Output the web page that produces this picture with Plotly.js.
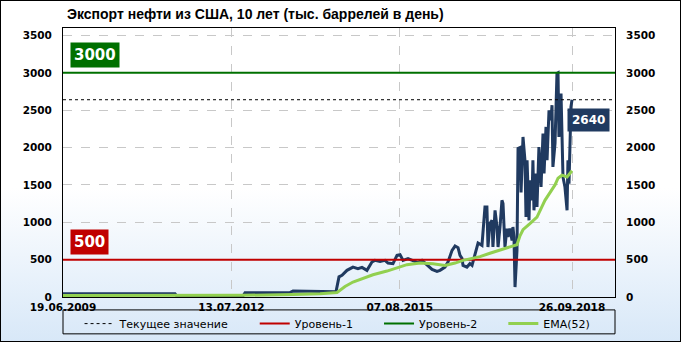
<!DOCTYPE html>
<html>
<head>
<meta charset="utf-8">
<script src="https://cdn.plot.ly/plotly-3.0.1.min.js"></script>
<style>
  html, body { margin: 0; padding: 0; }
  #wrap {
    width: 681px; height: 342px; box-sizing: border-box;
    border: 1px solid #000;
    background: linear-gradient(to bottom, #ffffff 0%, #ffffff 55%, #d8e8f8 100%);
  }
  #chart { width: 679px; height: 340px; }
</style>
</head>
<body>
<div id="wrap"><div id="chart"></div></div>
<script>
// ---- data ----
const titleText = 'Экспорт нефти из США, 10 лет (тыс. баррелей в день)';
const dates = [
  '2009-06-19','2010-02-20','2010-11-13','2011-07-04','2011-07-17','2012-02-22','2012-09-28','2012-10-12',
  '2013-08-07','2013-08-27','2014-02-23','2014-06-09','2014-06-29','2014-07-19','2014-08-21','2014-09-30',
  '2014-11-02','2014-11-29','2015-01-01','2015-02-03','2015-02-23','2015-03-29','2015-05-01','2015-05-21',
  '2015-06-23','2015-07-20','2015-08-09','2015-08-29','2015-10-01','2015-11-03','2015-12-06','2016-01-02',
  '2016-02-04','2016-03-09','2016-04-11','2016-05-01','2016-06-03','2016-06-23','2016-07-20','2016-08-09',
  '2016-08-29','2016-09-11','2016-09-24','2016-10-01','2016-10-27','2016-11-16','2016-11-30','2016-12-20',
  '2017-01-09','2017-02-04','2017-02-24','2017-03-09','2017-03-16','2017-03-29','2017-04-12','2017-04-18',
  '2017-05-02','2017-05-15','2017-05-22','2017-06-04','2017-06-17','2017-06-24','2017-07-07','2017-07-20',
  '2017-07-27','2017-08-09','2017-08-23','2017-08-29','2017-09-05','2017-09-12','2017-09-25','2017-10-02',
  '2017-10-15','2017-10-22','2017-11-04','2017-11-17','2017-11-24','2017-12-01','2017-12-14','2017-12-20',
  '2018-01-03','2018-01-09','2018-01-16','2018-01-29','2018-02-05','2018-02-18','2018-03-04','2018-03-17',
  '2018-03-24','2018-04-06','2018-04-13','2018-04-26','2018-05-09','2018-05-16','2018-05-22','2018-06-05',
  '2018-06-18','2018-06-25','2018-07-01','2018-07-15','2018-07-21','2018-07-28','2018-08-10','2018-08-24',
  '2018-08-30','2018-09-06','2018-09-19','2018-09-26'
];
const exportsKbd = [
  45, 42, 48, 44, 12, 10, 14, 58,
  60, 80, 78, 70, 270, 290, 357, 400,
  380, 397, 357, 468, 490, 477, 490, 454,
  446, 557, 567, 490, 513, 490, 460, 490,
  433, 370, 343, 357, 400, 468, 624, 682,
  660, 557, 517, 423, 400, 446, 423, 580,
  722, 691, 1205, 1205, 669, 982, 1026, 669,
  1160, 937, 669, 937, 1294, 1250, 669, 915,
  803, 915, 758, 937, 803, 133, 624, 1987,
  2000, 1400, 2142, 1830, 1070, 1830, 1026, 1563,
  1294, 1830, 1160, 1652, 1205, 2008, 1472, 2188,
  1652, 2276, 1830, 2500, 2366, 2567, 1741, 2054,
  2992, 3000, 2142, 2724, 2098, 1606, 1472, 1160,
  1830, 1517, 2544, 2640
];
const emaDates = [
  '2009-06-19','2011-07-04','2012-09-28','2013-08-27','2014-02-23','2014-06-16','2014-08-08','2014-09-30',
  '2014-11-29','2015-02-10','2015-05-14','2015-08-09','2015-09-24','2015-12-20','2016-03-15','2016-06-03',
  '2016-08-09','2016-10-01','2016-11-16','2017-01-22','2017-03-29','2017-06-24','2017-08-29','2017-09-25',
  '2017-10-15','2017-11-04','2017-12-20','2018-02-05','2018-03-30','2018-05-03','2018-06-05','2018-06-25',
  '2018-07-21','2018-08-24','2018-09-13','2018-09-26'
];
const emaValues = [
  20, 22, 22, 35, 44, 60, 140, 200,
  245, 298, 347, 400, 433, 454, 446, 423,
  454, 490, 510, 540, 585, 645, 690, 700,
  820, 900, 982, 1070, 1294, 1390, 1500, 1590,
  1630, 1606, 1650, 1690
];
const xRange = ['2009-06-19', '2019-07-09'];
const yRange = [0, 3600];
const yTicks = [0, 500, 1000, 1500, 2000, 2500, 3000, 3500];
const xTickVals = ['2009-06-19', '2012-07-13', '2015-08-07', '2018-09-26'];
const xTickText = ['19.06.2009', '13.07.2012', '07.08.2015', '26.09.2018'];
const level1 = 500;
const level2 = 3000;
const legendNames = ['Текущее значение', 'Уровень-1', 'Уровень-2', 'EMA(52)'];

// ---- styles ----
const NAVY = '#203a60';
const RED = '#c00000';
const DGREEN = '#007000';
const LGREEN = '#92d050';
const current = exportsKbd[exportsKbd.length - 1];
const lastDate = dates[dates.length - 1];
const pad = '\u00a0\u00a0\u00a0\u00a0\u00a0\u00a0';

const traces = [
  { x: dates, y: exportsKbd, type: 'scatter', mode: 'lines', showlegend: false,
    line: { color: NAVY, width: 3 }, hoverinfo: 'skip' },
  { x: xRange, y: [current, current], type: 'scatter', mode: 'lines', name: legendNames[0] + pad,
    line: { color: '#000', width: 1, dash: '3px,3px' } },
  { x: xRange, y: [level1, level1], type: 'scatter', mode: 'lines', name: legendNames[1] + pad,
    line: { color: RED, width: 2 } },
  { x: xRange, y: [level2, level2], type: 'scatter', mode: 'lines', name: legendNames[2] + pad,
    line: { color: DGREEN, width: 2 } },
  { x: emaDates, y: emaValues, type: 'scatter', mode: 'lines', name: legendNames[3],
    line: { color: LGREEN, width: 3 } },
  { x: [], y: [], yaxis: 'y2', showlegend: false, type: 'scatter' }
];

const tickFont = { family: 'DejaVu Sans', size: 10.5, color: '#000', weight: 'bold' };

const layout = {
  width: 679, height: 340,
  paper_bgcolor: 'rgba(0,0,0,0)', plot_bgcolor: 'rgba(0,0,0,0)',
  margin: { l: 62, r: 65, t: 27, b: 44, autoexpand: false },
  title: { text: '<b>' + titleText + '</b>', xref: 'container', yref: 'container',
           x: 66/679, xanchor: 'left', y: 1 - 13.5/340, yanchor: 'middle',
           font: { family: 'Liberation Sans', size: 14, color: '#000' } },
  xaxis: { type: 'date', range: xRange, tickvals: xTickVals, ticktext: xTickText,
           showgrid: true, gridcolor: '#c8c8c8', griddash: 'dash', gridwidth: 1,
           showline: true, linecolor: '#000', linewidth: 1, mirror: true,
           ticks: '', tickfont: tickFont, fixedrange: true },
  yaxis: { range: yRange, tickvals: yTicks, showgrid: true, gridcolor: '#c8c8c8', griddash: 'dash',
           zeroline: false, showline: true, linecolor: '#000', linewidth: 1, mirror: true,
           ticks: 'outside', ticklen: 8, tickcolor: 'rgba(0,0,0,0)', tickfont: tickFont },
  yaxis2: { range: yRange, tickvals: yTicks, overlaying: 'y', side: 'right', showgrid: false,
            zeroline: false, showline: false,
            ticks: 'outside', ticklen: 8, tickcolor: 'rgba(0,0,0,0)', tickfont: tickFont },
  showlegend: true,
  legend: { orientation: 'h', x: 0.03, xanchor: 'left', y: -0.045, yanchor: 'top',
            bgcolor: 'rgba(0,0,0,0)', borderwidth: 0,
            font: { family: 'DejaVu Sans', size: 11, color: '#000' }, traceorder: 'normal' },
  shapes: [
    { type: 'rect', xref: 'paper', yref: 'paper', x0: 0, x1: 1, y0: -0.048, y1: -0.137,
      line: { color: '#000', width: 1 }, fillcolor: 'rgba(0,0,0,0)' }
  ],
  annotations: [
    { xref: 'paper', yref: 'y', x: 0.012, y: level2, xanchor: 'left', yanchor: 'bottom', yshift: 5,
      text: '<b>' + level2 + '</b>', showarrow: false, bgcolor: DGREEN, borderpad: 3,
      font: { family: 'DejaVu Sans', size: 15, color: '#fff' } },
    { xref: 'paper', yref: 'y', x: 0.012, y: level1, xanchor: 'left', yanchor: 'bottom', yshift: 5,
      text: '<b>' + level1 + '</b>', showarrow: false, bgcolor: RED, borderpad: 3,
      font: { family: 'DejaVu Sans', size: 15, color: '#fff' } },
    { xref: 'x', yref: 'y', x: lastDate, y: current, xanchor: 'left', yanchor: 'top', xshift: -5, yshift: -8,
      text: '<b>' + current + '</b>', showarrow: false, bgcolor: NAVY, borderpad: 4,
      font: { family: 'DejaVu Sans', size: 12, color: '#fff' } }
  ]
};

Plotly.newPlot('chart', traces, layout, { displayModeBar: false, staticPlot: true });
</script>
</body>
</html>
